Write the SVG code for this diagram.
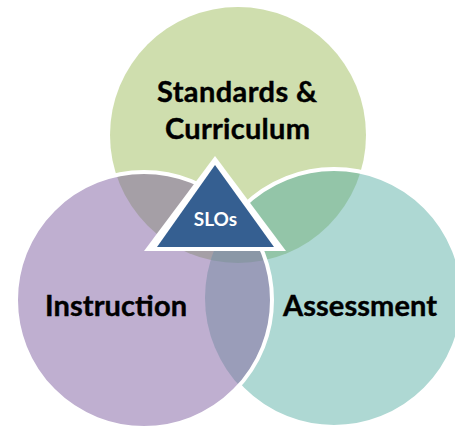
<svg xmlns="http://www.w3.org/2000/svg" width="455" height="428" viewBox="0 0 455 428">
  <style>
    .lbl { font-family: Lato, "Liberation Sans", sans-serif; font-weight: bold; font-size: 29px; fill: #000; stroke: #000; stroke-width: 0.4; text-anchor: middle; }
    .slo { font-family: Lato, "Liberation Sans", sans-serif; font-weight: bold; font-size: 19px; fill: #fff; text-anchor: middle; }
    .ring { fill: none; stroke: #fff; stroke-width: 4; }
  </style>
  <defs>
    <clipPath id="cG"><circle cx="238" cy="135" r="128"/></clipPath>
    <clipPath id="cT"><circle cx="334" cy="298" r="129"/></clipPath>
    <mask id="mNotP" maskUnits="userSpaceOnUse" x="0" y="0" width="455" height="428">
      <rect x="0" y="0" width="455" height="428" fill="#fff"/>
      <circle cx="144" cy="300" r="128" fill="#000"/>
    </mask>
  </defs>
  <rect width="455" height="428" fill="#fff"/>

  <g id="standards">
    <circle cx="238" cy="135" r="128" fill="#cfdeae"/>
  </g>
  <g id="assessment">
    <circle cx="334" cy="298" r="129" fill="#aed8d3"/>
  </g>
  <g id="instruction">
    <circle cx="144" cy="300" r="128" fill="#bfafd0"/>
  </g>

  <g id="overlaps">
    <circle cx="334" cy="298" r="129" fill="#93c5a8" clip-path="url(#cG)"/>
    <circle cx="144" cy="300" r="128" fill="#a59fa6" clip-path="url(#cG)"/>
    <circle cx="144" cy="300" r="128" fill="#9a9db9" clip-path="url(#cT)"/>
    <g clip-path="url(#cG)">
      <circle cx="144" cy="300" r="128" fill="#8a97a6" clip-path="url(#cT)"/>
    </g>
  </g>

  <g id="outlines">
    <circle class="ring" cx="334" cy="298" r="129" mask="url(#mNotP)"/>
    <circle class="ring" cx="144" cy="300" r="128"/>
  </g>

  <g id="labels">
    <text class="lbl" x="237" y="102" textLength="160">Standards &amp;</text>
    <text class="lbl" x="237.5" y="139" textLength="145">Curriculum</text>
    <text class="lbl" x="116" y="316" textLength="142">Instruction</text>
    <text class="lbl" x="360" y="316" textLength="154">Assessment</text>
  </g>

  <g id="slos">
    <polygon points="215,156 144,251 286,251" fill="#fff"/>
    <polygon points="215,165 157,247 274,247" fill="#355f91"/>
    <text class="slo" x="215.5" y="226">SLOs</text>
  </g>
</svg>
